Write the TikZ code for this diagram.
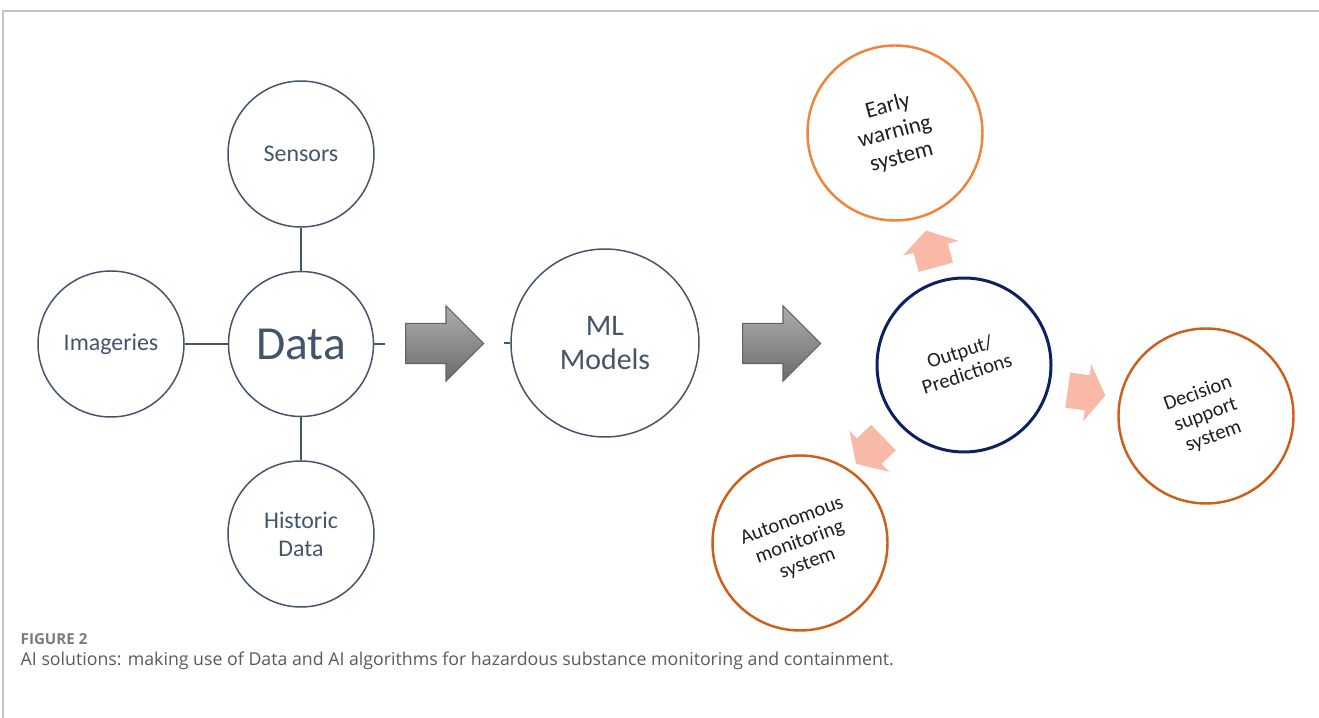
\documentclass[tikz,border=0pt]{standalone}
\usepackage{fontspec}
\setmainfont{Carlito}
\newfontfamily\capfont{Open Sans}
\usepackage{graphicx}
\usepackage{xcolor}
\definecolor{slate}{HTML}{44546A}
\definecolor{navy}{HTML}{0B2161}
\definecolor{amber}{HTML}{F0843A}
\definecolor{rust}{HTML}{CC5F1A}
\definecolor{blush}{HTML}{F8B9A6}
\definecolor{rule}{HTML}{C4C4C4}
\definecolor{capgray}{HTML}{5A5A5A}
\usetikzlibrary{positioning,shapes.geometric,shapes.arrows}
\newcommand{\tilted}[2]{\rotatebox{#1}{\begin{tabular}{@{}c@{}}#2\end{tabular}}}
\tikzset{
  every picture/.style={line width=0.85pt},
  src/.style={circle, draw=slate, text=slate, inner sep=0pt, minimum size=#1, align=center, font=\fontsize{13.6}{16}\selectfont},
  src/.default=2.92cm,
  result/.style={circle, draw=#1, line width=1.4pt, inner sep=0pt, minimum size=3.5cm, text=black!88, align=center, font=\fontsize{11.7}{13}\selectfont},
  flow/.style={single arrow, anchor=tail, draw=black!62, top color=black!32, bottom color=black!58, line width=0.6pt,
    inner xsep=0pt, inner ysep=0.39cm, minimum height=1.56cm, minimum width=1.48cm, single arrow head extend=0.35cm},
  pointer/.style={single arrow, anchor=tail, fill=blush, draw=none, inner xsep=0pt, inner ysep=0.34cm,
    minimum height=0.76cm, minimum width=1.12cm, single arrow head extend=0.22cm, single arrow tip angle=115},
  stub/.style={draw=slate},
}

\begin{document}
\begin{tikzpicture}[node distance=0.86cm]
  \useasboundingbox (0,0) rectangle (26.38,-14.36);
  \draw[rule, line width=0.6pt] (0.06,-14.36) -- (0.06,-0.22) -- (26.38,-0.22);

  % data sources round the hub
  \node[src=2.9cm, font=\fontsize{27}{30}\selectfont] (data) at (6.02,-6.88) {Data};
  \node[src, above=of data] (sensors) {Sensors};
  \node[src, left=of data] (imagery) {Imageries};
  \node[src, below=of data] (history) {Historic\\Data};
  \foreach \s in {sensors, imagery, history} \draw[stub] (\s) -- (data);

  \node[src=3.76cm, font=\fontsize{17}{19}\selectfont] (ml) at (12.1,-6.86) {ML\\Models};
  \coordinate (dstub) at ([xshift=0.22cm]data.east);
  \coordinate (mstub) at ([xshift=-0.12cm]ml.west);
  \draw[stub] (data.east) -- (dstub);
  \draw[stub] (mstub) -- (ml.west);

  \node[flow] (toml) at (8.1,-6.87) {};
  \node[flow] (toout) at (14.84,-6.87) {};

  % outputs
  \node[result=navy, line width=1.7pt, minimum size=3.48cm] (out) at (19.28,-7.3)
    {\tilted{18}{Output/\\Predictions}};
  \node[result=amber, font=\fontsize{13}{15}\selectfont] (warn) at (17.9,-2.66)
    {\tilted{15}{Early\\warning\\system}};
  \node[result=rust] (dss) at (24.12,-8.32)
    {\tilted{20}{Decision\\support\\system}};
  \node[result=rust] (auto) at (16.0,-10.86)
    {\tilted{20}{Autonomous\\monitoring\\system}};

  \node[pointer, rotate=105] (upw) at (18.72,-5.36) {};
  \node[pointer, rotate=-8] (rtw) at (21.34,-7.8) {};
  \node[pointer, rotate=224] (dnw) at (17.68,-8.74) {};

  % caption
  \node[anchor=base west, inner sep=0pt, font=\capfont\fontsize{8.6}{10}\selectfont\bfseries, text=capgray!80] (figno) at (0.4,-12.9) {FIGURE 2};
  \node[anchor=base west, inner sep=0pt, font=\capfont\fontsize{10.1}{12}\selectfont, text=capgray] (caption) at (0.4,-13.32)
    {AI solutions: making use of Data and AI algorithms for hazardous substance monitoring and containment.};
\end{tikzpicture}
\end{document}
